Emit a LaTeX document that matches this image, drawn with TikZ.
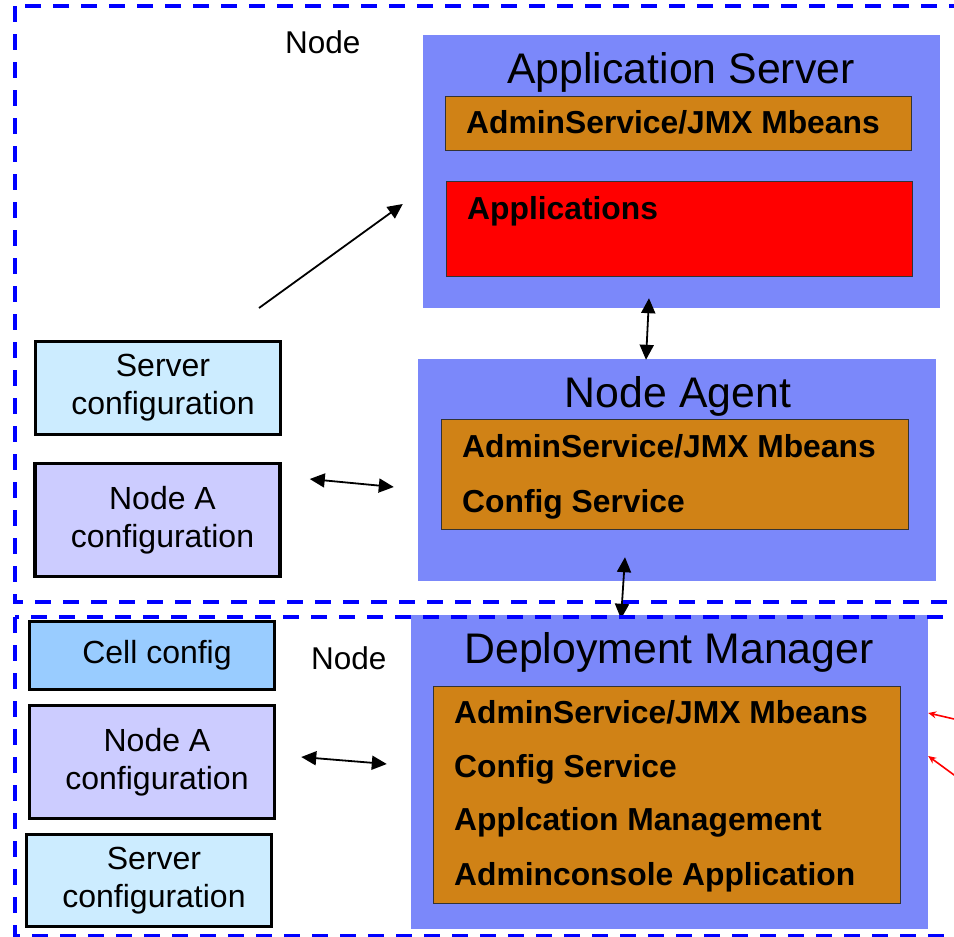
\documentclass[tikz,border=0pt]{standalone}
\usepackage{fontspec}
\setmainfont{Liberation Sans}
\usetikzlibrary{arrows.meta}

\definecolor{serverblue}{RGB}{123,136,250}
\definecolor{mbeanorange}{RGB}{208,130,22}
\definecolor{cfgcyan}{RGB}{204,236,255}
\definecolor{cfglilac}{RGB}{204,204,255}
\definecolor{cellblue}{RGB}{153,204,255}

\begin{document}
\begin{tikzpicture}[x=1pt, y=-1pt,
  process/.style={fill=serverblue, inner sep=0},
  service/.style={fill=mbeanorange, draw=black!80, line width=0.9pt, inner sep=0},
  cfgbox/.style={draw=black, line width=3.5pt, align=center, inner sep=0,
    minimum width=245pt, font=\fontsize{32}{38}\selectfont},
  title/.style={anchor=base, inner sep=0, font=\fontsize{42.8}{48}\selectfont},
  item/.style={anchor=base west, inner sep=0, font=\bfseries\fontsize{31.8}{36}\selectfont},
  nodetag/.style={anchor=base west, inner sep=0, font=\fontsize{31.5}{36}\selectfont},
  flow/.style={-{Triangle[length=15pt,width=14pt]}, line width=1.8pt},
  link/.style={{Triangle[length=15pt,width=14pt]}-{Triangle[length=15pt,width=14pt]}, line width=1.8pt},
  remote/.style={-{Stealth[length=8pt,width=7pt]}, red, line width=1.6pt},
  nodezone/.style={draw=blue, line width=3.5pt, dash pattern=on 16pt off 12pt}]

  \useasboundingbox (0,0) rectangle (954,937);
  \clip (0,0) rectangle (954,937);

  % Application server
  \node[process, minimum width=517pt, minimum height=273pt] (appsrv) at (681.5,171.5) {};
  \node[title] (appsrvtitle) at (681,83) {Application Server};
  \node[service, minimum width=466pt, minimum height=54pt] (appadm) at (678,123) {};
  \node[item] (appadmtext) at (466,133) {AdminService/JMX Mbeans};
  \node[service, fill=red, minimum width=466pt, minimum height=95pt] (apps) at (679,228.5) {};
  \node[item] (appstext) at (467,219) {Applications};

  % Node agent
  \node[process, minimum width=518pt, minimum height=222pt] (agent) at (677,470) {};
  \node[title] (agenttitle) at (678,407) {Node Agent};
  \node[service, minimum width=467pt, minimum height=110pt] (agentadm) at (674.5,474) {};
  \node[item] (agentmbeans) at (462,457) {AdminService/JMX Mbeans};
  \node[item] (agentconfig) at (462,512) {Config Service};

  % Deployment manager
  \node[process, minimum width=517pt, minimum height=314pt] (dmgr) at (669.5,772) {};
  \node[title] (dmgrtitle) at (669,663) {Deployment Manager};
  \node[service, minimum width=467pt, minimum height=217pt] (dmgradm) at (666.5,794.5) {};
  \node[item] (dmgrmbeans) at (454,723) {AdminService/JMX Mbeans};
  \node[item] (dmgrconfig) at (454,777) {Config Service};
  \node[item] (dmgrappmgmt) at (454,830) {Applcation Management};
  \node[item] (dmgrconsole) at (454,885) {Adminconsole Application};

  % Configuration repositories
  \node[cfgbox, fill=cfgcyan, minimum height=93pt] (srvcfgA) at (158,388) {\hspace*{10pt}Server\\\hspace*{10pt}configuration};
  \node[cfgbox, fill=cfglilac, minimum height=113pt] (nodecfgA) at (157.5,520) {\hspace*{10pt}Node A\\\hspace*{10pt}configuration};
  \node[cfgbox, fill=cellblue, minimum height=68pt] (cellcfg) at (152,655.5) {\hspace*{10pt}Cell config};
  \node[cfgbox, fill=cfglilac, minimum height=113pt] (nodecfgB) at (152,762) {\hspace*{10pt}Node A\\\hspace*{10pt}configuration};
  \node[cfgbox, fill=cfgcyan, minimum height=92pt] (srvcfgB) at (149,880.5) {\hspace*{10pt}Server\\\hspace*{10pt}configuration};

  % Labels
  \node[nodetag] (nodetagA) at (285,53) {Node};
  \node[nodetag] (nodetagB) at (311,669) {Node};

  % Connections
  \coordinate (cfgout) at (259,308);
  \draw[flow] (cfgout) -- ([xshift=-20pt,yshift=-32.5pt]appsrv.west);
  \draw[link] ([xshift=-32.5pt,yshift=10pt]appsrv.south) -- ([xshift=-31pt,yshift=-1pt]agent.north);
  \draw[link] ([xshift=28pt,yshift=41pt]nodecfgA.east) -- ([xshift=-24pt,yshift=-17pt]agent.west);
  \draw[link] ([xshift=-52pt,yshift=24pt]agent.south) -- ([xshift=-48.5pt,yshift=-4pt]dmgr.north);
  \draw[link] ([xshift=25pt,yshift=5pt]nodecfgB.east) -- ([xshift=-24pt,yshift=8pt]dmgr.west);

  % Remote clients
  \coordinate (extA) at (980,725);
  \coordinate (extB) at (980,794);
  \draw[remote] (extA) -- ([yshift=59pt]dmgr.east);
  \draw[remote] (extB) -- ([yshift=16pt]dmgr.east);

  % Node boundaries
  \draw[nodezone] (15,6) rectangle (1000,602);
  \draw[nodezone] (15,617) rectangle (1000,936);
\end{tikzpicture}
\end{document}
